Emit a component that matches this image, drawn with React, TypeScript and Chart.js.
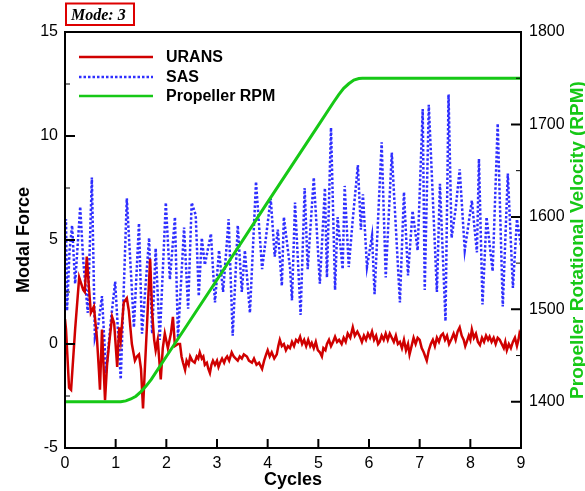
import React, { useEffect, useRef } from "react";
import { Chart, registerables } from "chart.js";

Chart.register(...registerables);

const cycleTicks = [0, 1, 2, 3, 4, 5, 6, 7, 8, 9];
const forceTicks = [-5, 0, 5, 10, 15];
const forceMinorTicks = [-2.5, 2.5, 7.5, 12.5];
const rpmTicks = [1400, 1500, 1600, 1700, 1800];
const rpmMinorTicks = [1450, 1550, 1650, 1750];
const seriesLabels = ["URANS", "SAS", "Propeller RPM"];
const chartTitle = "Mode: 3";
const xTitle = "Cycles";
const yTitle = "Modal Force";
const y2Title = "Propeller Rotational Velocity (RPM)";

const uransPoints: [number, number][] = [
  [0.0, 1.2], [0.02, 0.7], [0.08, -2.1], [0.12, -2.2], [0.2, 0.7], [0.28, 3.2], [0.36, 2.6], [0.39, 2.5],
  [0.43, 4.2], [0.47, 2.8], [0.51, 1.5], [0.57, 1.8], [0.63, 0.3], [0.67, -1.3], [0.69, -2.2], [0.73, 0.7],
  [0.79, -2.7], [0.83, -1.0], [0.87, 0.0], [0.93, 1.3], [0.97, 1.0], [1.03, -1.1], [1.07, 0.8], [1.1, 0.2],
  [1.16, 2.0], [1.22, 2.2], [1.26, 1.6], [1.32, 0.0], [1.38, -0.8], [1.42, -0.6], [1.46, -0.5], [1.5, -1.2],
  [1.54, -3.1], [1.58, -1.0], [1.62, 1.0], [1.68, 4.1], [1.72, 1.5], [1.76, 0.2], [1.79, -0.3], [1.83, 0.2],
  [1.89, -1.7], [1.93, -0.2], [1.97, 0.5], [2.03, -0.2], [2.09, 0.5], [2.13, 1.3], [2.17, -0.1], [2.23, 0.0],
  [2.27, 0.0], [2.3, -0.6], [2.33, -0.9], [2.37, -1.25], [2.4, -0.8], [2.44, -1.0], [2.47, -0.6], [2.51, -0.8],
  [2.56, -0.9], [2.6, -0.6], [2.63, -0.7], [2.66, -0.4], [2.7, -0.7], [2.73, -0.6], [2.76, -1.0], [2.8, -0.9],
  [2.83, -1.2], [2.86, -1.4], [2.89, -1.0], [2.92, -0.8], [2.96, -1.0], [3.0, -0.8], [3.03, -1.1], [3.06, -0.9],
  [3.1, -0.7], [3.14, -0.9], [3.17, -0.7], [3.2, -0.6], [3.24, -0.8], [3.29, -0.4], [3.33, -0.6], [3.37, -0.7],
  [3.41, -0.8], [3.45, -0.6], [3.49, -0.7], [3.53, -0.5], [3.59, -0.6], [3.63, -0.8], [3.69, -0.9], [3.73, -0.7],
  [3.78, -1.0], [3.83, -0.9], [3.89, -1.2], [3.93, -0.8], [3.97, -0.5], [4.0, -0.3], [4.04, -0.6], [4.08, -0.4],
  [4.13, -0.7], [4.18, -0.5], [4.21, -0.1], [4.24, 0.2], [4.28, -0.1], [4.32, 0.0], [4.36, -0.3], [4.4, -0.1],
  [4.44, -0.2], [4.48, 0.1], [4.52, -0.1], [4.56, 0.2], [4.6, 0.1], [4.64, 0.35], [4.68, 0.0], [4.72, 0.2],
  [4.76, -0.1], [4.8, 0.2], [4.84, -0.1], [4.87, 0.05], [4.91, -0.2], [4.95, 0.1], [4.99, -0.3], [5.03, -0.4],
  [5.07, -0.6], [5.1, -0.2], [5.14, -0.3], [5.17, 0.0], [5.21, 0.2], [5.25, -0.1], [5.29, 0.1], [5.33, 0.35],
  [5.37, 0.1], [5.41, 0.2], [5.46, 0.0], [5.5, 0.3], [5.54, 0.1], [5.58, 0.5], [5.63, 0.3], [5.68, 0.8],
  [5.72, 0.4], [5.77, 0.6], [5.82, 0.35], [5.86, 0.1], [5.9, 0.4], [5.94, 0.2], [5.98, 0.5], [6.02, 0.3],
  [6.06, 0.6], [6.1, 0.2], [6.14, 0.4], [6.18, 0.0], [6.21, 0.1], [6.25, 0.4], [6.29, 0.2], [6.33, 0.5],
  [6.37, 0.2], [6.41, 0.5], [6.45, 0.3], [6.49, 0.1], [6.53, 0.4], [6.57, 0.0], [6.61, 0.1], [6.65, -0.2],
  [6.69, 0.2], [6.73, -0.3], [6.77, 0.0], [6.8, -0.5], [6.84, -0.1], [6.88, 0.3], [6.92, 0.0], [6.96, 0.3],
  [7.0, 0.2], [7.04, -0.2], [7.08, -0.4], [7.11, -0.6], [7.14, -0.8], [7.18, -0.3], [7.22, 0.0], [7.26, 0.2],
  [7.3, -0.1], [7.34, 0.3], [7.38, 0.1], [7.42, 0.4], [7.46, 0.5], [7.5, 0.2], [7.54, 0.4], [7.58, 0.0],
  [7.63, 0.25], [7.67, 0.5], [7.71, 0.2], [7.75, 0.6], [7.79, 0.8], [7.83, 0.4], [7.87, 0.2], [7.9, -0.1],
  [7.93, 0.1], [7.97, 0.4], [8.0, 0.2], [8.03, 0.7], [8.07, 0.3], [8.11, 0.5], [8.15, 0.1], [8.19, -0.05],
  [8.23, 0.3], [8.27, 0.1], [8.31, 0.4], [8.35, 0.2], [8.38, 0.35], [8.42, 0.1], [8.46, 0.3], [8.5, 0.0],
  [8.54, 0.3], [8.58, 0.2], [8.62, 0.0], [8.66, -0.2], [8.69, 0.1], [8.72, -0.3], [8.76, 0.0], [8.8, -0.2],
  [8.84, 0.1], [8.88, 0.3], [8.92, -0.1], [8.95, 0.2], [8.97, 0.5], [9.0, 0.3],
];

const sasPoints: [number, number][] = [
  [0.0, 5.5], [0.02, 6.0], [0.04, 1.6], [0.09, 4.5], [0.14, 5.7], [0.2, 2.9], [0.3, 6.6], [0.36, 4.0],
  [0.45, 1.5], [0.53, 8.0], [0.59, 0.3], [0.66, 1.0], [0.73, 2.3], [0.81, -1.4], [0.9, 1.0], [0.99, 3.0],
  [1.1, -1.7], [1.22, 7.0], [1.3, 3.5], [1.36, 0.8], [1.46, 5.8], [1.52, 0.5], [1.66, 5.1], [1.72, 0.5],
  [1.79, 4.6], [1.87, 0.2], [1.99, 6.8], [2.07, 3.1], [2.17, 6.1], [2.23, 0.3], [2.35, 5.6], [2.43, 1.7],
  [2.5, 6.8], [2.58, 6.2], [2.64, 2.3], [2.7, 5.1], [2.76, 3.8], [2.88, 5.3], [2.96, 2.0], [3.04, 4.5],
  [3.12, 2.5], [3.23, 6.0], [3.31, 0.4], [3.41, 5.7], [3.49, 2.5], [3.55, 4.5], [3.65, 1.5], [3.77, 7.8],
  [3.89, 3.6], [3.96, 5.0], [4.06, 7.0], [4.14, 4.2], [4.2, 5.5], [4.28, 2.8], [4.32, 6.1], [4.44, 3.7],
  [4.48, 2.1], [4.54, 6.8], [4.65, 1.4], [4.73, 7.5], [4.79, 3.6], [4.91, 8.0], [5.03, 2.9], [5.13, 7.5],
  [5.17, 3.2], [5.25, 10.4], [5.33, 2.6], [5.38, 6.1], [5.48, 3.6], [5.52, 7.6], [5.6, 3.7], [5.68, 6.0],
  [5.78, 8.6], [5.84, 5.5], [5.88, 7.2], [5.96, 3.7], [6.06, 5.2], [6.11, 2.4], [6.25, 9.7], [6.33, 3.2],
  [6.45, 9.2], [6.61, 2.0], [6.69, 7.3], [6.77, 3.3], [6.86, 6.4], [6.96, 4.5], [7.06, 11.3], [7.1, 2.6],
  [7.18, 11.5], [7.26, 7.0], [7.34, 2.5], [7.4, 7.7], [7.51, 1.1], [7.57, 12.0], [7.63, 5.1], [7.71, 6.5],
  [7.79, 8.4], [7.89, 4.5], [8.03, 6.9], [8.13, 4.4], [8.17, 8.9], [8.24, 1.9], [8.32, 6.1], [8.44, 3.5],
  [8.54, 10.6], [8.64, 1.8], [8.74, 8.2], [8.84, 2.7], [8.92, 6.0], [9.0, 4.7],
];

const rpmPoints: [number, number][] = [
  [0.0, 1400], [1.0, 1400], [1.1, 1400], [1.2, 1401], [1.3, 1403], [1.4, 1406], [1.5, 1411], [1.6, 1417],
  [1.7, 1424], [2.0, 1449], [3.0, 1532], [4.0, 1616], [5.0, 1699], [5.3, 1724], [5.4, 1732], [5.5, 1739],
  [5.6, 1744], [5.7, 1748], [5.8, 1749.6], [5.87, 1750], [9.0, 1750],
];

const RED = "#d00000";
const BLUE = "#2e2eff";
const GREEN = "#16c816";
const SANS = "'Liberation Sans', Arial, sans-serif";

const frameAndText = {
  id: "frameAndText",
  afterDraw(chart: any) {
    const { ctx, chartArea: a, scales } = chart;
    const x = scales.x, y = scales.y, y2 = scales.y2;
    ctx.save();
    ctx.strokeStyle = "#000";
    ctx.lineWidth = 2;
    ctx.strokeRect(a.left, a.top, a.right - a.left, a.bottom - a.top);
    ctx.beginPath();
    forceTicks.forEach((v) => { const p = y.getPixelForValue(v); ctx.moveTo(a.left, p); ctx.lineTo(a.left + 10, p); });
    rpmTicks.forEach((v) => { const p = y2.getPixelForValue(v); ctx.moveTo(a.right, p); ctx.lineTo(a.right - 10, p); });
    cycleTicks.forEach((v) => { const p = x.getPixelForValue(v); ctx.moveTo(p, a.bottom); ctx.lineTo(p, a.bottom - 9); });
    ctx.stroke();
    ctx.lineWidth = 1;
    ctx.beginPath();
    forceMinorTicks.forEach((v) => { const p = y.getPixelForValue(v); ctx.moveTo(a.left, p); ctx.lineTo(a.left + 5, p); });
    rpmMinorTicks.forEach((v) => { const p = y2.getPixelForValue(v); ctx.moveTo(a.right, p); ctx.lineTo(a.right - 5, p); });
    ctx.stroke();

    ctx.strokeStyle = "#dd0000";
    ctx.lineWidth = 2;
    ctx.strokeRect(66, 3.5, 68, 21.5);
    ctx.fillStyle = "#000";
    ctx.font = "italic bold 16px 'Liberation Serif', 'Times New Roman', serif";
    ctx.textAlign = "left";
    ctx.textBaseline = "alphabetic";
    ctx.fillText(chartTitle, 71, 20);

    ctx.font = `bold 18px ${SANS}`;
    ctx.textAlign = "center";
    ctx.fillText(xTitle, (a.left + a.right) / 2, 485);
    ctx.save();
    ctx.translate(29, (a.top + a.bottom) / 2);
    ctx.rotate(-Math.PI / 2);
    ctx.fillText(yTitle, 0, 0);
    ctx.restore();
    ctx.save();
    ctx.fillStyle = GREEN;
    ctx.font = `bold 19px ${SANS}`;
    ctx.translate(583, (a.top + a.bottom) / 2);
    ctx.rotate(-Math.PI / 2);
    ctx.fillText(y2Title, 0, 0);
    ctx.restore();

    const rows = [57, 77, 96];
    const colors = [RED, BLUE, GREEN];
    rows.forEach((ry, i) => {
      ctx.save();
      ctx.strokeStyle = colors[i];
      ctx.lineWidth = 2.5;
      if (i === 1) ctx.setLineDash([2.5, 2]);
      ctx.beginPath();
      ctx.moveTo(79, ry);
      ctx.lineTo(153, ry);
      ctx.stroke();
      ctx.restore();
      ctx.fillStyle = "#000";
      ctx.font = `bold 16px ${SANS}`;
      ctx.textAlign = "left";
      ctx.textBaseline = "middle";
      ctx.fillText(seriesLabels[i], 166, ry + 1);
    });
    ctx.restore();
  },
};

export default function App() {
  const ref = useRef<HTMLCanvasElement>(null);
  useEffect(() => {
    if (!ref.current) return;
    const tickFont = { family: SANS, size: 16 };
    const plain = (v: any) => String(v);
    const chart = new Chart(ref.current, {
      type: "line",
      data: {
        datasets: [
          {
            label: seriesLabels[0],
            data: uransPoints.map(([x, y]) => ({ x, y })),
            borderColor: RED,
            borderWidth: 2.5,
            pointRadius: 0,
            yAxisID: "y",
            order: 1,
          },
          {
            label: seriesLabels[1],
            data: sasPoints.map(([x, y]) => ({ x, y })),
            borderColor: BLUE,
            borderWidth: 2.5,
            borderDash: [2.5, 2],
            pointRadius: 0,
            yAxisID: "y",
            order: 2,
          },
          {
            label: seriesLabels[2],
            data: rpmPoints.map(([x, y]) => ({ x, y })),
            borderColor: GREEN,
            borderWidth: 3,
            pointRadius: 0,
            yAxisID: "y2",
            order: 0,
          },
        ],
      },
      options: {
        responsive: false,
        maintainAspectRatio: false,
        animation: false,
        layout: { padding: { top: 32 } },
        plugins: { legend: { display: false }, tooltip: { enabled: false }, title: { display: false } },
        scales: {
          x: {
            type: "linear",
            position: "bottom",
            min: 0,
            max: 9,
            grid: { display: false, drawTicks: false },
            border: { display: false },
            afterBuildTicks: (s: any) => { s.ticks = cycleTicks.map((value) => ({ value })); },
            afterFit: (s: any) => { s.height = 43; },
            ticks: { color: "#000", font: tickFont, padding: 6, maxRotation: 0, autoSkip: false, callback: plain },
          },
          y: {
            type: "linear",
            position: "left",
            min: -5,
            max: 15,
            grid: { display: false, drawTicks: false },
            border: { display: false },
            afterBuildTicks: (s: any) => { s.ticks = forceTicks.map((value) => ({ value })); },
            afterFit: (s: any) => { s.width = 65; },
            ticks: { color: "#000", font: tickFont, padding: 7, callback: plain },
          },
          y2: {
            type: "linear",
            position: "right",
            min: 1350,
            max: 1800,
            grid: { display: false, drawTicks: false },
            border: { display: false },
            afterBuildTicks: (s: any) => { s.ticks = rpmTicks.map((value) => ({ value })); },
            afterFit: (s: any) => { s.width = 64; },
            ticks: { color: "#000", font: tickFont, padding: 8, callback: plain },
          },
        },
      },
      plugins: [frameAndText],
    });
    return () => chart.destroy();
  }, []);
  return (
    <div style={{ position: "absolute", left: 0, top: 0, width: 585, height: 491, background: "#fff" }}>
      <canvas ref={ref} width={585} height={491} style={{ display: "block" }} />
    </div>
  );
}
